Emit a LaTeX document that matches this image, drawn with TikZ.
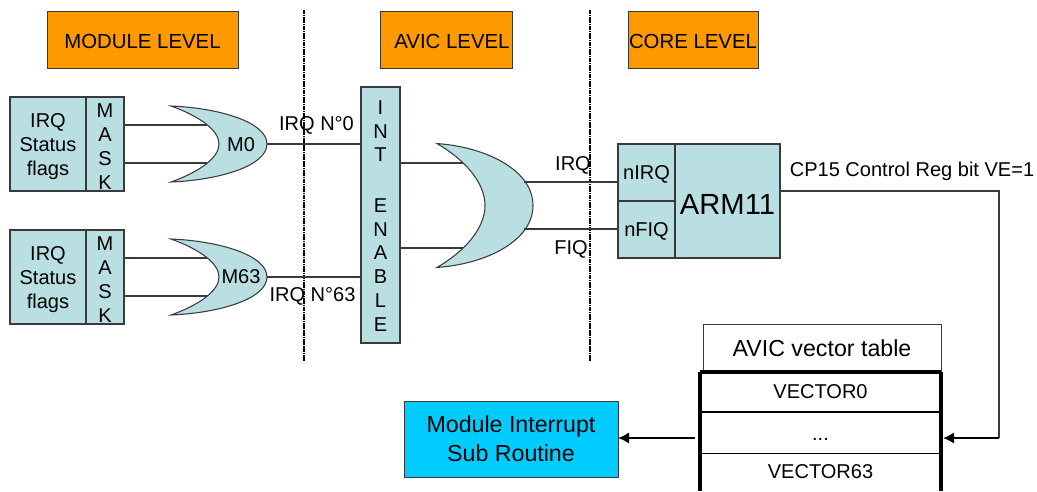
\documentclass[tikz,border=0pt]{standalone}
\usepackage{fontspec}
\setmainfont{Liberation Sans}
\usepackage{xcolor}
\usetikzlibrary{arrows.meta}
\usetikzlibrary{positioning}
\definecolor{tealfill}{HTML}{B9DFE3}
\definecolor{levelfill}{HTML}{FF9900}
\definecolor{routinefill}{HTML}{00CCFF}
\definecolor{edgegray}{HTML}{3A3A3A}
\newcommand{\txt}{\fontsize{11.4}{13.6}\selectfont}
\newcommand{\txtb}{\fontsize{13.2}{16.6}\selectfont}
\newcommand{\lowr}{\rule{0pt}{11pt}}
\tikzset{
    box/.style={draw=edgegray, line width=0.7pt, fill=tealfill, inner sep=0pt, outer sep=0pt, align=center, font=\txt},
    levelbox/.style={draw=edgegray, line width=0.4pt, fill=levelfill, inner sep=0pt, minimum height=57*0.02cm, text height=10pt, text depth=0pt, font=\fontsize{11.6}{13.6}\selectfont},
    wire/.style={draw=edgegray, line width=0.7pt},
    divider/.style={line width=1.2pt, dash pattern=on 1pt off 0.3pt},
    bigarrow/.style={line width=1.4pt, -{Latex[length=2.2mm,width=2.3mm]}},
    orgate/.pic={
        \draw[draw=edgegray, line width=0.6pt, fill=tealfill] (-48,-38) .. controls (0,-36) and (48,-22) .. (48,0)
            .. controls (48,22) and (0,36) .. (-48,38)
            .. controls (-20,28) and (0,14) .. (0,0)
            .. controls (0,-14) and (-20,-28) .. (-48,-38) -- cycle;
    }
}
\begin{document}
\begin{tikzpicture}[x=0.02cm, y=-0.02cm]
        \useasboundingbox (0,0) rectangle (1037,491);
        % level headers
        \node[levelbox, minimum width=191*0.02cm] (levelmodule) at (142.5,39.5) {MODULE LEVEL};
        \node[levelbox, minimum width=132*0.02cm] (levelavic) at (446,39.5) {\hspace{6.8pt}AVIC LEVEL};
        \node[levelbox, minimum width=130*0.02cm] (levelcore) at (693,39.5) {CORE LEVEL};
        % dividers
        \coordinate (d1top) at (304,10);
        \coordinate (d1bot) at (304,361);
        \coordinate (d2top) at (590,10);
        \coordinate (d2bot) at (590,361);
        \draw[divider] (d1top) -- (d1bot);
        \draw[divider] (d2top) -- (d2bot);
        % module level
        \node[box, minimum width=76*0.02cm, minimum height=94*0.02cm] (status0) at (48,144) {\lowr IRQ\\Status\\flags};
        \node[box, minimum width=38*0.02cm, minimum height=94*0.02cm] (mask0) at (105,144) {\lowr M\\A\\S\\K};
        \node[box, minimum width=76*0.02cm, minimum height=94*0.02cm] (status63) at (48,277) {\lowr IRQ\\Status\\flags};
        \node[box, minimum width=38*0.02cm, minimum height=94*0.02cm] (mask63) at (105,277) {\lowr M\\A\\S\\K};
        \coordinate (in0a) at (215,125);
        \coordinate (in0b) at (215,163);
        \coordinate (in63a) at (215,258);
        \coordinate (in63b) at (215,296);
        \draw[wire] (mask0.east |- in0a) -- (in0a);
        \draw[wire] (mask0.east |- in0b) -- (in0b);
        \draw[wire] (mask63.east |- in63a) -- (in63a);
        \draw[wire] (mask63.east |- in63b) -- (in63b);
        \pic at (219,144) {orgate};
        \pic at (219,277) {orgate};
        \node[font=\txt, inner sep=0pt] (m0) at (241,145) {M0};
        \node[font=\txt, inner sep=0pt] (m63) at (241,277) {M63};
        \coordinate (out0) at (267,144);
        \coordinate (out63) at (267,277);
        % avic level
        \node[box, minimum width=39*0.02cm, minimum height=256*0.02cm] (intenable) at (380.5,215) {\rule{0pt}{9pt}I\\N\\T\\[15pt]E\\N\\A\\B\\L\\E};
        \draw[wire] (out0) -- (intenable.west |- out0);
        \draw[wire] (out63) -- (intenable.west |- out63);
        \node[font=\txt, inner sep=0pt] (labelirq0) at (316.5,125) {IRQ N°0};
        \node[font=\txt, inner sep=0pt] (labelirq63) at (312.5,296) {IRQ N°63};
        \coordinate (ina) at (470,163);
        \coordinate (inb) at (470,248);
        \draw[wire] (intenable.east |- ina) -- (ina);
        \draw[wire] (intenable.east |- inb) -- (inb);
        \pic[transform shape, yscale=1.63] at (485,205.5) {orgate};
        % core level
        \node[box, minimum width=57*0.02cm, minimum height=57*0.02cm, text height=8.2pt, text depth=0pt] (nirq) at (646.5,172.5) {nIRQ};
        \node[box, minimum width=57*0.02cm, minimum height=57*0.02cm, text height=8.2pt, text depth=0pt] (nfiq) at (646.5,229.5) {nFIQ};
        \node[box, minimum width=105*0.02cm, minimum height=114*0.02cm, text height=15pt, text depth=0pt, font=\fontsize{16.6}{18}\selectfont] (arm) at (727.5,201) {ARM11};
        \coordinate (outa) at (524,182);
        \coordinate (outb) at (524,229);
        \draw[wire] (outa) -- (nirq.west |- outa);
        \draw[wire] (outb) -- (nfiq.west |- outb);
        \node[font=\txt, inner sep=0pt] (labelirq) at (573,165) {IRQ};
        \node[font=\txt, inner sep=0pt] (labelfiq) at (571,249) {FIQ};
        \node[font=\txt, inner sep=0pt] (labelcp) at (912,171) {CP15 Control Reg bit VE=1};
        % vector table
        \node[draw=edgegray, line width=0.4pt, minimum width=238*0.02cm, minimum height=48*0.02cm, inner sep=0pt, font=\txtb] (title) at (822,348) {AVIC vector table};
        \node[minimum width=241*0.02cm, minimum height=40*0.02cm, inner sep=0pt, outer sep=0pt, font=\txt] (vec0) at (820.5,392) {VECTOR0};
        \node[minimum width=241*0.02cm, minimum height=41*0.02cm, inner sep=0pt, outer sep=0pt, font=\txt, text height=9pt, text depth=0pt] (vecdots) at (820.5,433) {...};
        \node[minimum width=241*0.02cm, minimum height=38*0.02cm, inner sep=0pt, outer sep=0pt, font=\txt] (vec63) at (820.5,472) {VECTOR63};
        \draw[line width=1.8pt] (vec0.north west) -- (vec0.north east);
        \draw[line width=1.8pt] (vec0.north west) -- (vec63.south west);
        \draw[line width=1.8pt] (vec0.north east) -- (vec63.south east);
        \draw[line width=1pt] (vec0.south west) -- (vec0.south east);
        \draw[line width=0.8pt] (vecdots.south west) -- (vecdots.south east);
        % routine and arrows
        \node[draw=edgegray, line width=0.4pt, fill=routinefill, minimum width=214*0.02cm, minimum height=76*0.02cm, inner sep=0pt, outer sep=0pt, align=center, font=\txtb] (routine) at (511,439) {Module Interrupt\\Sub Routine};
        \coordinate (cpa) at (780,191);
        \coordinate (cpb) at (999,191);
        \coordinate (cpc) at (999,438);
        \coordinate (vecin) at (943,438);
        \coordinate (vecout) at (695,438);
        \draw[wire] (cpa) -- (cpb) -- (cpc);
        \draw[bigarrow] (cpc) -- (vecin);
        \draw[bigarrow] (vecout) -- (routine.east |- vecout);
    \end{tikzpicture}
\end{document}
